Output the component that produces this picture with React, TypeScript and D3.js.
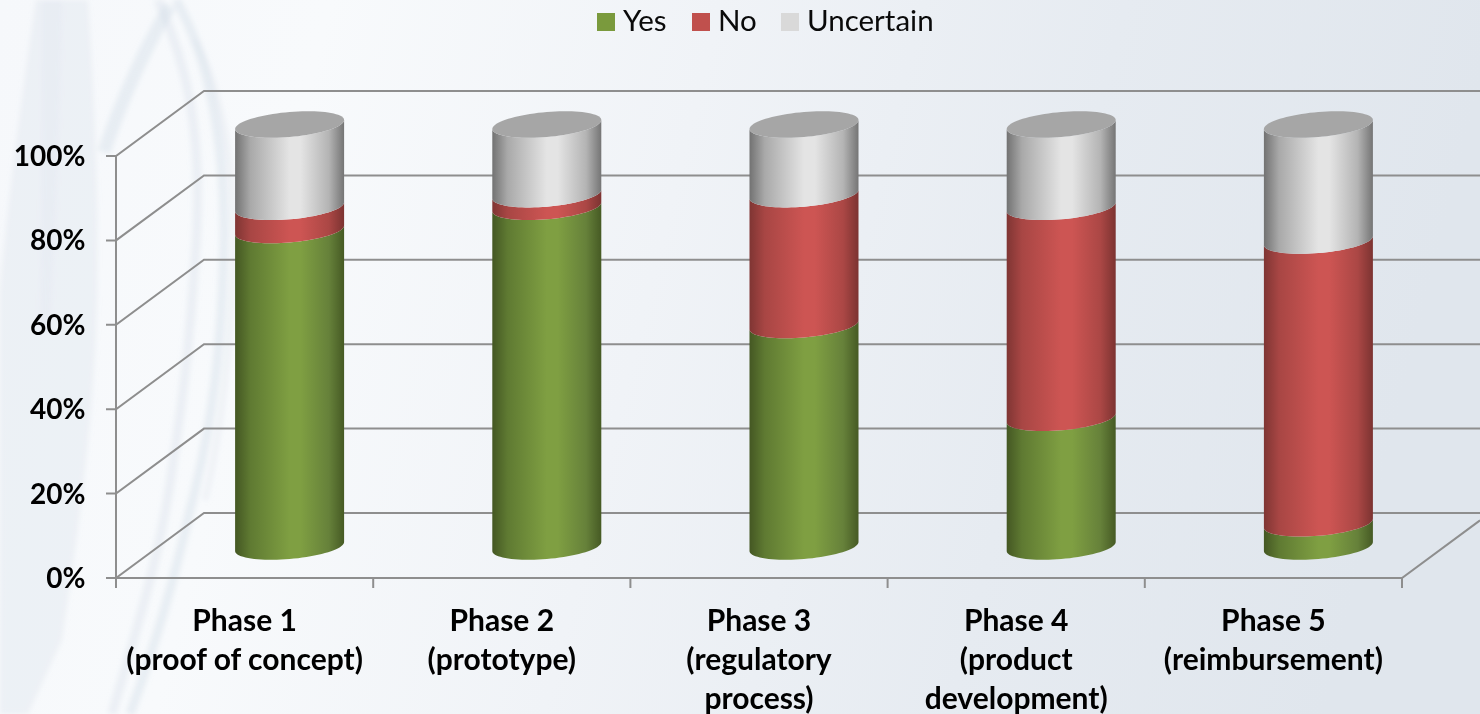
import React from "react";
import * as d3 from "d3";

const categories = [
  ["Phase 1", "(proof of concept)"],
  ["Phase 2", "(prototype)"],
  ["Phase 3", "(regulatory", "process)"],
  ["Phase 4", "(product", "development)"],
  ["Phase 5", "(reimbursement)"],
];
const yesValues = [75, 80.5, 52.5, 30.5, 5.5];
const noValues = [5.5, 3, 31, 50, 67];
const uncertainValues = [19.5, 16.5, 16.5, 19.5, 27.5];
const yTicks = [0, 20, 40, 60, 80, 100];

const seriesNames = ["Yes", "No", "Uncertain"];
const seriesColors = ["#7a9a3d", "#c0504d", "#d9d9d9"];
const ramps = [
  ["#445723", "#5f7a32", "#7f9f42", "#7f9f42", "#66813a", "#465a24"],
  ["#7f3533", "#a84644", "#cd5553", "#cd5553", "#ab4745", "#7c3331"],
  ["#727272", "#a9a9a9", "#e4e4e4", "#e4e4e4", "#b4b4b4", "#757575"],
];
const rampStops = [0, 0.14, 0.5, 0.6, 0.86, 1];

const W = 1480;
const H = 714;
const plotLeft = 116;
const plotRight = 1402;
const depthX = 88;
const depthY = -65;
const axisColor = "#8e8e8e";
const font = "Lato, 'Open Sans', sans-serif";

const xScale = d3.scaleBand<number>().domain(d3.range(categories.length)).range([plotLeft, plotRight]);
const yScale = d3.scaleLinear().domain([0, 100]).range([578, 156]);

// Cylinders stand part-way into the floor depth, so they share the axis scale with a fixed offset.
const cylBase = -31.5;
const cylShiftX = 45;
const radiusX = 54.5;
const radiusY = 12.5;
const shear = -4.5;

const lineGen = d3.line<[number, number]>().x((d) => d[0]).y((d) => d[1]);
const rimPoint = (cx: number, cy: number, t: number): [number, number] => [
  cx + radiusX * Math.cos(t),
  cy + radiusY * Math.sin(t) + shear * Math.cos(t),
];
// Angles run from the right edge, through the front, to the left edge of a rim.
const frontAngles = d3.range(0, 41).map((i) => (i / 40) * Math.PI);
const fullAngles = d3.range(0, 81).map((i) => (i / 80) * 2 * Math.PI);

function sidePath(cx: number, yLow: number, yHigh: number) {
  const lower = frontAngles.map((t) => rimPoint(cx, yLow, t));
  const upper = frontAngles.map((t) => rimPoint(cx, yHigh, t)).reverse();
  return lineGen([...lower, ...upper]) + "Z";
}

// Pale decorative ribbons behind the plot on the left side of the slide.
const ribbonFills = [
  { d: "M36 0 L88 0 C96 120 100 240 96 330 C92 430 80 520 62 640 L28 714 L0 714 L0 290 C10 180 24 80 36 0Z", o: 0.3 },
  { d: "M42 0 L62 0 C60 100 56 220 50 330 L40 330 C42 220 42 100 42 0Z", o: 0.14 },
];
const ribbonLines = [
  { d: "M170 6 C150 40 125 90 104 152", w: 13, o: 0.4 },
  { d: "M158 0 C185 60 205 130 195 260 C190 330 186 380 172 470 C160 560 130 650 112 714", w: 9, o: 0.32 },
  { d: "M176 0 C205 50 225 130 224 240 C222 340 214 420 190 510 C172 590 150 660 130 714", w: 9, o: 0.4 },
  { d: "M195 40 C222 90 236 170 234 260 C230 350 222 430 205 500", w: 6, o: 0.24 },
];

export default function App() {
  const stacks = categories.map((_, i) => {
    const a = yesValues[i];
    const b = a + noValues[i];
    return [
      [0, a],
      [a, b],
      [b, b + uncertainValues[i]],
    ];
  });

  return (
    <svg width={W} height={H} viewBox={`0 0 ${W} ${H}`} style={{ position: "fixed", left: 0, top: 0, display: "block" }}>
      <defs>
        <linearGradient id="bgGrad" x1="0" y1="0" x2="1" y2="0.12">
          <stop offset="0" stopColor="#f6f8fb" />
          <stop offset="0.22" stopColor="#f8fafc" />
          <stop offset="0.48" stopColor="#f0f3f7" />
          <stop offset="0.75" stopColor="#e6ebf1" />
          <stop offset="1" stopColor="#e0e6ed" />
        </linearGradient>
        <filter id="soft" x="-10%" y="-10%" width="120%" height="120%">
          <feGaussianBlur stdDeviation="2.5" />
        </filter>
        {ramps.map((r, i) => (
          <linearGradient key={i} id={`ramp${i}`} x1="0" y1="0" x2="1" y2="0">
            {r.map((c, k) => (
              <stop key={k} offset={rampStops[k]} stopColor={c} />
            ))}
          </linearGradient>
        ))}
      </defs>

      <rect width={W} height={H} fill="url(#bgGrad)" />
      <g filter="url(#soft)">
        {ribbonFills.map((s, i) => (
          <path key={i} d={s.d} fill="#d3dfe7" opacity={s.o} />
        ))}
        <g fill="none" stroke="#cfdbe5">
          {ribbonLines.map((s, i) => (
            <path key={i} d={s.d} strokeWidth={s.w} opacity={s.o} />
          ))}
        </g>
      </g>

      <g stroke={axisColor} strokeWidth={2} fill="none">
        {yTicks.map((t) => (
          <path
            key={t}
            d={`M${plotLeft - 10} ${yScale(t)}H${plotLeft}L${plotLeft + depthX} ${yScale(t) + depthY}H${W}`}
          />
        ))}
        <path d={`M${plotLeft} ${yScale(100)}V${yScale(0) + 10}`} />
        <path d={`M${plotLeft} ${yScale(0)}H${plotRight}L${W} ${yScale(0) + (depthY * (W - plotRight)) / depthX}`} />
        {categories.map((_, i) => (
          <path key={i} d={`M${plotLeft + xScale.step() * (i + 1)} ${yScale(0)}v10`} />
        ))}
      </g>

      {stacks.map((segments, i) => {
        const cx = (xScale(i) as number) + xScale.bandwidth() / 2 + cylShiftX;
        const topY = yScale(segments[2][1]) + cylBase;
        return (
          <g key={i}>
            {segments.map(([lo, hi], j) => (
              <path key={j} d={sidePath(cx, yScale(lo) + cylBase, yScale(hi) + cylBase)} fill={`url(#ramp${j})`} />
            ))}
            <path d={lineGen(fullAngles.map((t) => rimPoint(cx, topY, t))) + "Z"} fill="#a6a6a6" />
          </g>
        );
      })}

      <g fontFamily={font} fontWeight={700} fill="#000">
        <g fontSize={28}>
          {yTicks.map((t) => (
            <text key={t} x={85.5} y={yScale(t) + 10} textAnchor="end">{`${t}%`}</text>
          ))}
        </g>
        <g fontSize={30}>
          {categories.map((lines, i) => (
            <text key={i} textAnchor="middle">
              {lines.map((line, k) => (
                <tspan key={k} x={(xScale(i) as number) + xScale.bandwidth() / 2} y={631 + k * 39}>
                  {line}
                </tspan>
              ))}
            </text>
          ))}
        </g>
      </g>

      <g fontFamily={font} fontSize={29.5} fill="#0a0a0a">
        {seriesNames.map((name, i) => {
          const boxX = [597, 692, 781][i];
          return (
            <g key={name}>
              <rect x={boxX} y={13} width={18} height={18} fill={seriesColors[i]} />
              <text x={boxX + 26} y={31}>{name}</text>
            </g>
          );
        })}
      </g>
    </svg>
  );
}
